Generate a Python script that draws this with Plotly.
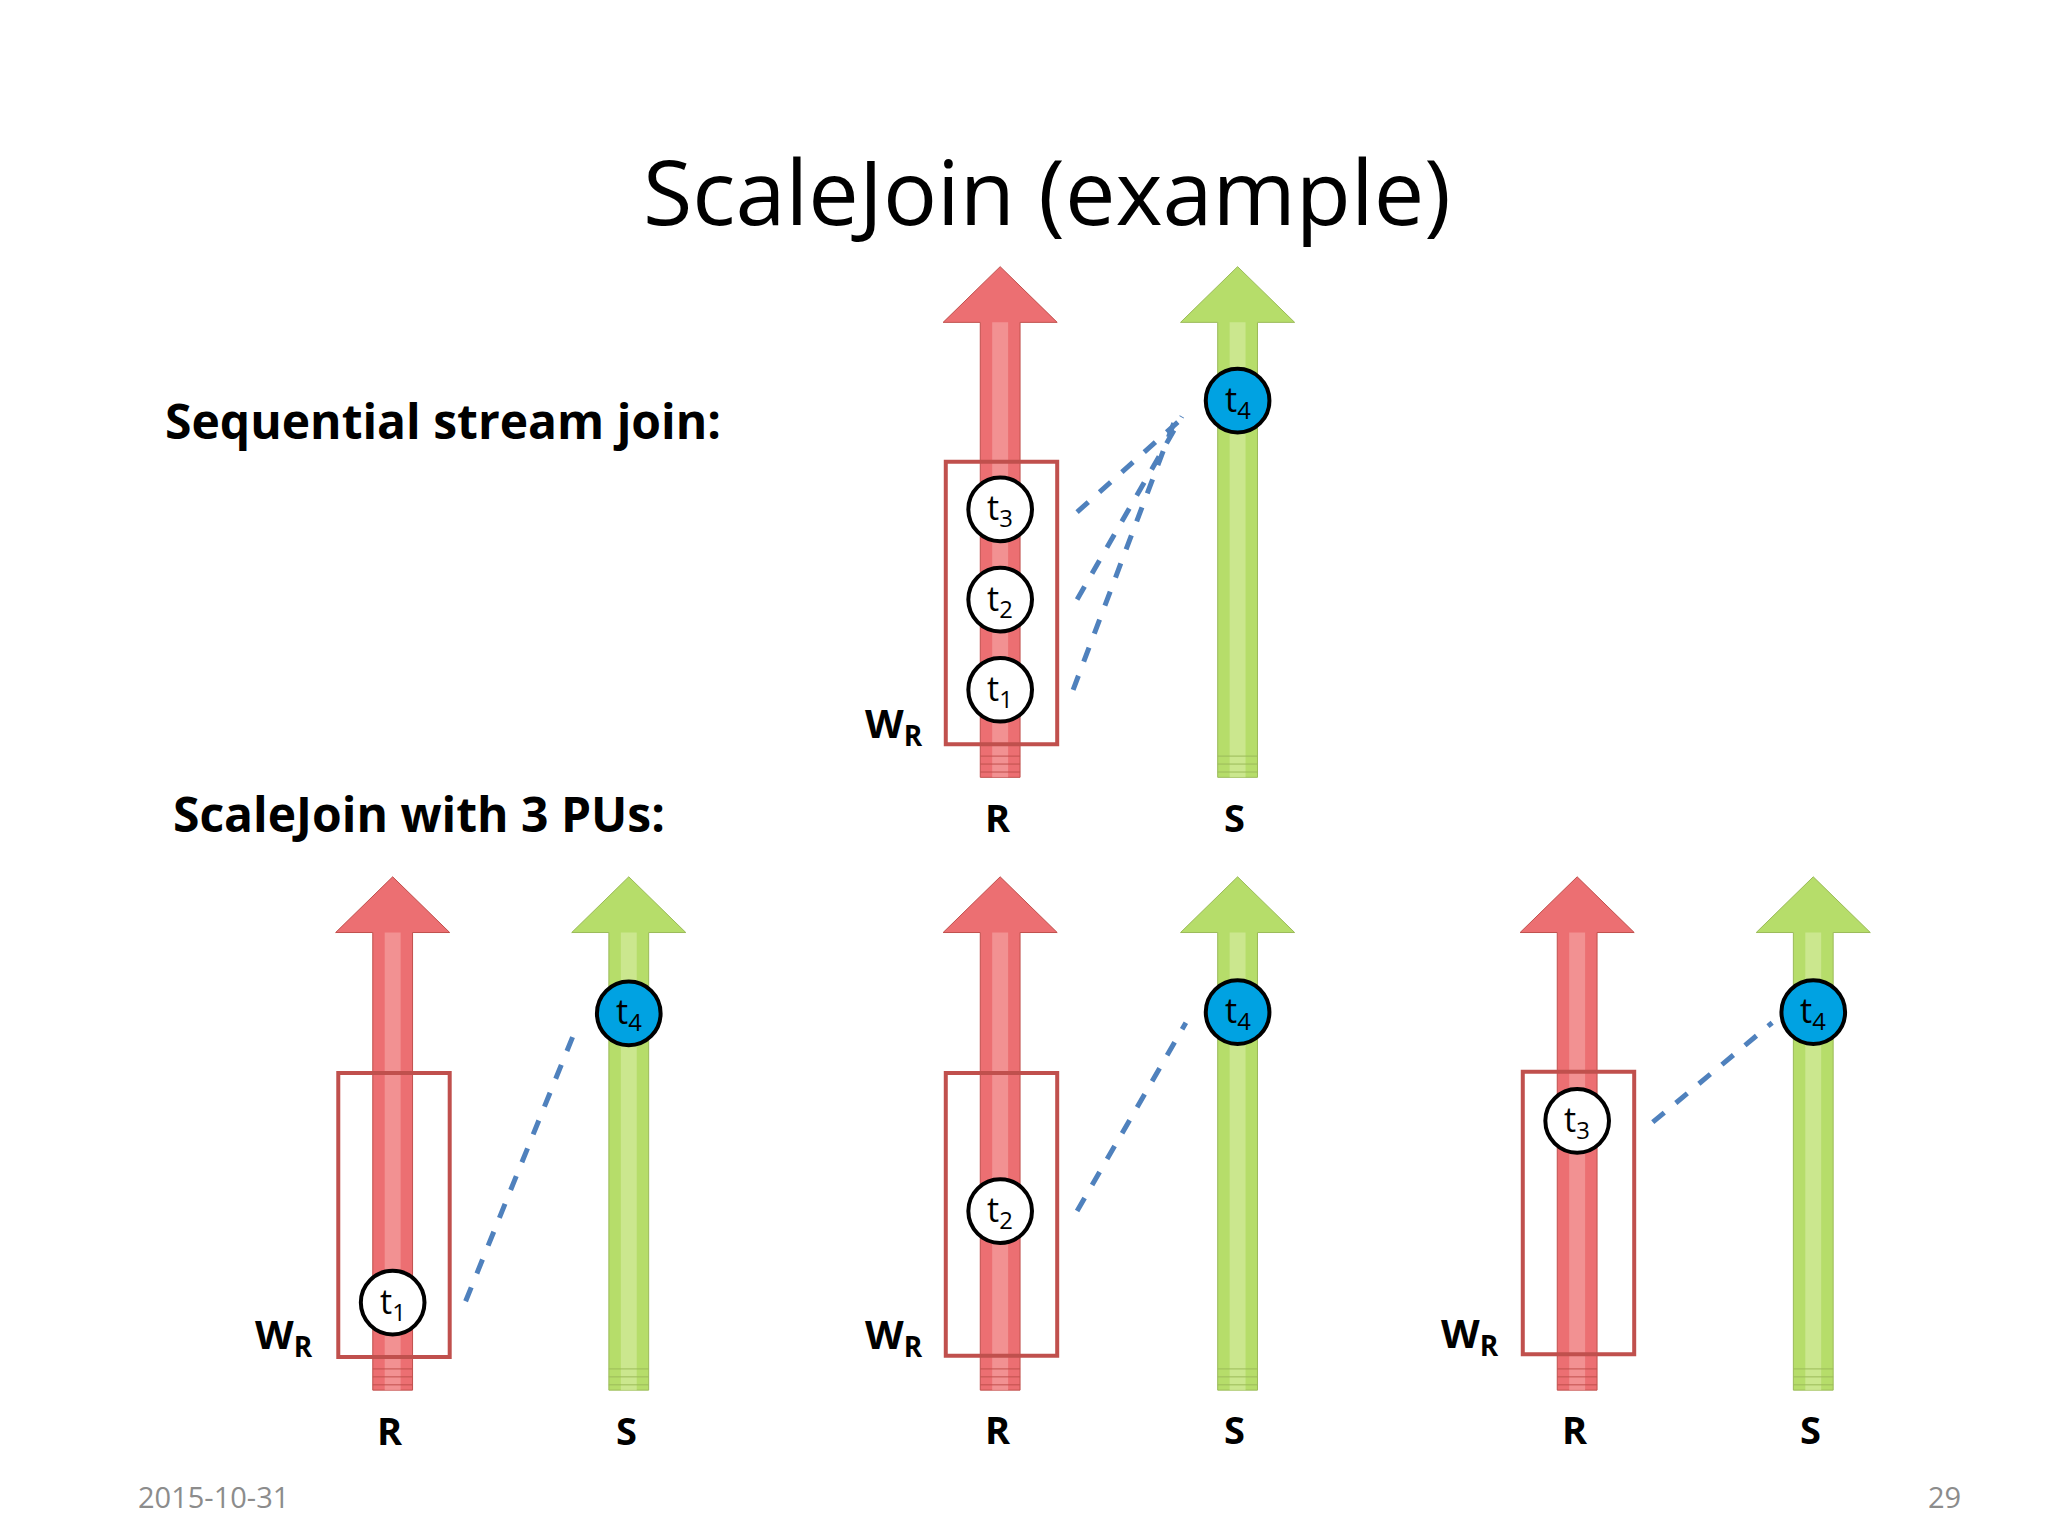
import plotly.graph_objects as go

# diagram coordinates in slide space (1544 x 1158, y down)
r_x = [748, 290, 748, 1183]
s_x = [927, 468, 927, 1361]
arrow_top = [195, 655, 655, 655]
arrow_bottom = [580, 1042, 1042, 1042]
box_top = [342, 803, 803, 802]
box_bottom = [555, 1017, 1016, 1015]
label_y = [610, 1072, 1071, 1071]
wr_x = [668, 208, 668, 1102]
wr_y = [540, 1001, 1001, 1000]

t4_y = [296, 758, 757, 757]
r_tuples = [["1", "2", "3"], ["1"], ["2"], ["3"]]
r_tuple_y = [[514, 446, 378], [976], [907], [839]]
dash_from = [[(803, 514), (806, 446), (806, 380)], [(345, 975)], [(806, 907)], [(1240, 840)]]
dash_to = [[(880, 310), (885, 308), (890, 305)], [(428, 770)], [(888, 765)], [(1330, 765)]]

RED, RED_LIGHT, RED_EDGE = "#EC6F72", "#F6A8A9", "#C0504D"
GREEN, GREEN_LIGHT, GREEN_EDGE = "#B6DD6A", "#D8EFA6", "#9BBB59"
BLUE = "#00A2E2"
FONT = "Open Sans"

fig = go.Figure()
shapes = []
ann = []


def arrow(cx, top, bottom, fill, light, edge):
    hw, sw, hh = 43, 15, 42
    path = (f"M {cx-sw},{bottom} L {cx-sw},{top+hh} L {cx-hw},{top+hh} L {cx},{top} "
            f"L {cx+hw},{top+hh} L {cx+sw},{top+hh} L {cx+sw},{bottom} Z")
    shapes.append(dict(type="path", path=path, fillcolor=fill, line=dict(color=edge, width=1), layer="below"))
    shapes.append(dict(type="rect", x0=cx - 6, x1=cx + 6, y0=top + hh, y1=bottom,
                       fillcolor=light, line_width=0, opacity=0.6, layer="below"))
    for k in range(3):
        yy = bottom - 4 - k * 6
        shapes.append(dict(type="line", x0=cx - sw, x1=cx + sw, y0=yy, y1=yy,
                           line=dict(color=edge, width=1), layer="below"))


def circle(cx, cy, fill, txt):
    r = 24
    shapes.append(dict(type="circle", x0=cx - r, x1=cx + r, y0=cy - r, y1=cy + r,
                       fillcolor=fill, line=dict(color="black", width=4)))
    ann.append(dict(x=cx, y=cy, text=f"t<sub>{txt}</sub>", showarrow=False,
                    font=dict(family=FONT, size=34, color="black")))


for i in range(4):
    arrow(r_x[i], arrow_top[i], arrow_bottom[i], RED, RED_LIGHT, RED_EDGE)
    arrow(s_x[i], arrow_top[i], arrow_bottom[i], GREEN, GREEN_LIGHT, GREEN_EDGE)
    shapes.append(dict(type="rect", x0=r_x[i] - 41, x1=r_x[i] + 43, y0=box_top[i], y1=box_bottom[i],
                       line=dict(color=RED_EDGE, width=4)))
    for (x0, y0), (x1, y1) in zip(dash_from[i], dash_to[i]):
        shapes.append(dict(type="line", x0=x0, y0=y0, x1=x1, y1=y1,
                           line=dict(color="#4F81BD", width=5, dash="dash")))
    for t, ty in zip(r_tuples[i], r_tuple_y[i]):
        circle(r_x[i], ty, "white", t)
    circle(s_x[i], t4_y[i], BLUE, "4")
    for x, lab in [(r_x[i], "R"), (s_x[i], "S")]:
        ann.append(dict(x=x - 2, y=label_y[i], text=f"<b>{lab}</b>", showarrow=False,
                        font=dict(family=FONT, size=38, color="black")))
    ann.append(dict(x=wr_x[i], y=wr_y[i], text="<b>W<sub>R</sub></b>", showarrow=False,
                    font=dict(family=FONT, size=40, color="black")))

ann += [
    dict(x=783, y=137, text="ScaleJoin (example)", showarrow=False,
         font=dict(family=FONT, size=90, color="black")),
    dict(x=117, y=311, xanchor="left", text="<b>Sequential stream join:</b>", showarrow=False,
         font=dict(family=FONT, size=48, color="black")),
    dict(x=123, y=607, xanchor="left", text="<b>ScaleJoin with 3 PUs:</b>", showarrow=False,
         font=dict(family=FONT, size=48, color="black")),
    dict(x=155, y=1122, text="2015-10-31", showarrow=False,
         font=dict(family=FONT, size=29, color="#8C8C8C")),
    dict(x=1460, y=1122, text="29", showarrow=False,
         font=dict(family=FONT, size=29, color="#8C8C8C")),
]

fig.update_layout(
    width=2048, height=1536, margin=dict(l=0, r=0, t=0, b=0),
    plot_bgcolor="white", paper_bgcolor="white",
    xaxis=dict(range=[0, 1544], visible=False, fixedrange=True),
    yaxis=dict(range=[1158, 0], visible=False, fixedrange=True),
    shapes=shapes, annotations=ann, showlegend=False,
)
fig.write_html("out.html")
